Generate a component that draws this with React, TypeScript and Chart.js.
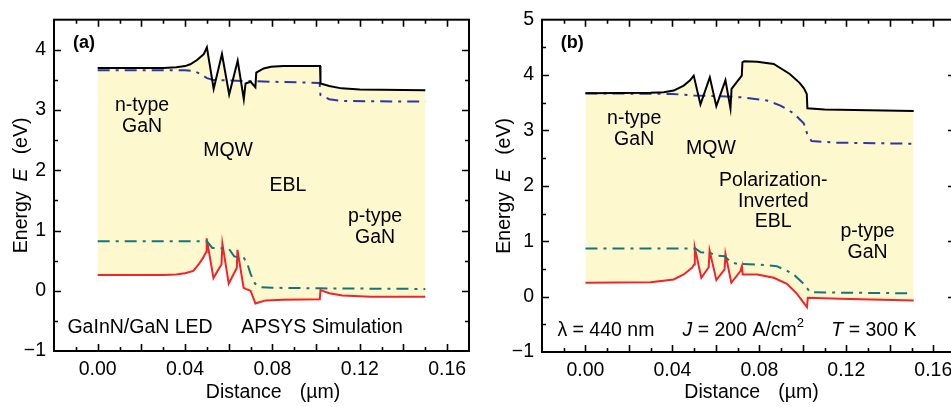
import React, { useEffect, useRef } from 'react';
import { Chart, registerables } from 'chart.js';

Chart.register(...registerables);

const FONT = '"Liberation Sans", Arial, Helvetica, sans-serif';

// ---------- Panel (a) data ----------
const condA_x = [0.0, 0.03, 0.036, 0.04, 0.0424, 0.0455, 0.0486, 0.0500, 0.0531, 0.0569, 0.0602, 0.0641, 0.0669, 0.0677, 0.0700, 0.0722, 0.0726, 0.0760, 0.0793, 0.0850, 0.1018, 0.1020, 0.1060, 0.1116, 0.1200, 0.1500];
const condA_y = [3.70, 3.70, 3.71, 3.73, 3.76, 3.83, 3.93, 4.04, 3.35, 3.93, 3.26, 3.82, 3.18, 3.44, 3.47, 3.38, 3.62, 3.69, 3.72, 3.73, 3.73, 3.44, 3.40, 3.36, 3.34, 3.33];
const fnA_x = [0.0, 0.040, 0.044, 0.047, 0.050, 0.053, 0.060, 0.080, 0.1016, 0.1020, 0.106, 0.112, 0.150];
const fnA_y = [3.66, 3.66, 3.65, 3.60, 3.53, 3.50, 3.49, 3.47, 3.45, 3.25, 3.18, 3.15, 3.14];
const valA_x = [0.0, 0.030, 0.036, 0.040, 0.0438, 0.0465, 0.0483, 0.0496, 0.0499, 0.0530, 0.0567, 0.0571, 0.0600, 0.0637, 0.0640, 0.0668, 0.0678, 0.0700, 0.0722, 0.0740, 0.0770, 0.0850, 0.1017, 0.1020, 0.1060, 0.1120, 0.1250, 0.1500];
const valA_y = [0.26, 0.26, 0.27, 0.29, 0.33, 0.45, 0.55, 0.64, 0.87, 0.21, 0.44, 0.78, 0.12, 0.38, 0.68, 0.05, 0.03, 0.00, -0.21, -0.19, -0.16, -0.15, -0.14, 0.01, -0.04, -0.08, -0.10, -0.10];
const fpA_x = [0.0, 0.0500, 0.0525, 0.0600, 0.0625, 0.0670, 0.0685, 0.0700, 0.0720, 0.0745, 0.0800, 0.1020, 0.1500];
const fpA_y = [0.82, 0.82, 0.71, 0.70, 0.57, 0.54, 0.45, 0.28, 0.12, 0.06, 0.05, 0.04, 0.03];

// ---------- Panel (b) data ----------
const condB_x = [0.0, 0.030, 0.036, 0.0406, 0.0452, 0.0480, 0.0498, 0.0529, 0.0572, 0.0602, 0.0644, 0.0667, 0.0672, 0.0719, 0.0722, 0.0730, 0.0790, 0.0866, 0.0940, 0.0985, 0.1005, 0.1018, 0.1021, 0.1100, 0.1510];
const condB_y = [3.67, 3.68, 3.69, 3.72, 3.81, 3.90, 3.99, 3.47, 3.96, 3.44, 3.91, 3.40, 3.75, 3.99, 4.23, 4.25, 4.24, 4.20, 4.02, 3.86, 3.76, 3.66, 3.40, 3.38, 3.35];
const fnB_x = [0.0, 0.040, 0.050, 0.060, 0.0713, 0.0780, 0.0835, 0.0897, 0.0958, 0.1004, 0.1020, 0.1040, 0.1150, 0.1510];
const fnB_y = [3.67, 3.66, 3.63, 3.62, 3.60, 3.57, 3.54, 3.45, 3.31, 3.13, 2.94, 2.81, 2.78, 2.76];
const valB_x = [0.0, 0.030, 0.0406, 0.0452, 0.0490, 0.0500, 0.0503, 0.0533, 0.0567, 0.0571, 0.0602, 0.0640, 0.0644, 0.0671, 0.0713, 0.0720, 0.0723, 0.0790, 0.0866, 0.0927, 0.0973, 0.1019, 0.1023, 0.1170, 0.1510];
const valB_y = [0.25, 0.26, 0.31, 0.40, 0.52, 0.58, 0.88, 0.34, 0.53, 0.83, 0.30, 0.49, 0.77, 0.25, 0.46, 0.55, 0.40, 0.40, 0.34, 0.23, 0.05, -0.19, -0.02, -0.04, -0.07];
const fpB_x = [0.0, 0.0506, 0.0530, 0.0575, 0.0600, 0.0640, 0.0670, 0.0700, 0.0800, 0.0880, 0.0930, 0.0960, 0.1004, 0.1034, 0.1200, 0.1500];
const fpB_y = [0.87, 0.87, 0.80, 0.79, 0.74, 0.73, 0.62, 0.59, 0.58, 0.55, 0.46, 0.39, 0.23, 0.08, 0.07, 0.06];

// ---------- axis ticks ----------
const xTickLabels = [0.0, 0.04, 0.08, 0.12, 0.16];
const yTicksA = [-1, 0, 1, 2, 3, 4];
const yTicksB = [-1, 0, 1, 2, 3, 4, 5];

type Part = { t: string; i?: boolean; b?: boolean; sup?: boolean; gap?: number };
type Note = { x: number; y: number; parts: Part[]; align?: 'center' | 'left'; size?: number };

const notesA: Note[] = [
  { x: -0.0113, y: 4.12, parts: [{ t: '(a)', b: true }], align: 'left', size: 18 },
  { x: 0.0203, y: 3.07, parts: [{ t: 'n-type' }] },
  { x: 0.0203, y: 2.73, parts: [{ t: 'GaN' }] },
  { x: 0.0597, y: 2.32, parts: [{ t: 'MQW' }] },
  { x: 0.0871, y: 1.75, parts: [{ t: 'EBL' }] },
  { x: 0.127, y: 1.23, parts: [{ t: 'p-type' }] },
  { x: 0.127, y: 0.89, parts: [{ t: 'GaN' }] },
  { x: 0.0194, y: -0.61, parts: [{ t: 'GaInN/GaN LED' }] },
  { x: 0.1027, y: -0.61, parts: [{ t: 'APSYS Simulation' }] },
];
const notesB: Note[] = [
  { x: -0.0114, y: 4.58, parts: [{ t: '(b)', b: true }], align: 'left', size: 18 },
  { x: 0.0224, y: 3.22, parts: [{ t: 'n-type' }] },
  { x: 0.0224, y: 2.84, parts: [{ t: 'GaN' }] },
  { x: 0.0577, y: 2.67, parts: [{ t: 'MQW' }] },
  { x: 0.0864, y: 2.10, parts: [{ t: 'Polarization-' }] },
  { x: 0.0864, y: 1.72, parts: [{ t: 'Inverted' }] },
  { x: 0.0864, y: 1.35, parts: [{ t: 'EBL' }] },
  { x: 0.1298, y: 1.17, parts: [{ t: 'p-type' }] },
  { x: 0.1298, y: 0.80, parts: [{ t: 'GaN' }] },
  { x: 0.0094, y: -0.62, parts: [{ t: 'λ = 440 nm' }] },
  { x: 0.0726, y: -0.62, parts: [{ t: 'J', i: true }, { t: ' = 200 A/cm' }, { t: '2', sup: true }] },
  { x: 0.1327, y: -0.62, parts: [{ t: 'T', i: true }, { t: ' = 300 K' }] },
];

const C_COND = '#000000';
const C_FN = '#2b38a3';
const C_FP = '#13767e';
const C_VAL = '#f2242a';
const C_FILL = '#fdf8cd';
const TXT = 19.5;

function zip(xs: number[], ys: number[]) {
  return xs.map((x, i) => ({ x, y: ys[i] }));
}

function fontOf(p: Part, size: number) {
  const s = p.sup ? Math.round(size * 0.68) : size;
  return `${p.i ? 'italic ' : ''}${p.b ? 'bold ' : ''}${s}px ${FONT}`;
}

function drawRich(ctx: CanvasRenderingContext2D, parts: Part[], x: number, y: number, size: number, align: 'center' | 'left', baseline: CanvasTextBaseline) {
  let total = 0;
  for (const p of parts) {
    if (p.gap) { total += p.gap; continue; }
    ctx.font = fontOf(p, size);
    total += ctx.measureText(p.t).width;
  }
  let cx = align === 'center' ? x - total / 2 : x;
  ctx.textAlign = 'left';
  ctx.textBaseline = baseline;
  for (const p of parts) {
    if (p.gap) { cx += p.gap; continue; }
    ctx.font = fontOf(p, size);
    ctx.fillText(p.t, cx, p.sup ? y - size * 0.38 : y);
    cx += ctx.measureText(p.t).width;
  }
}

type PanelCfg = {
  cond: { x: number; y: number }[];
  fn: { x: number; y: number }[];
  fp: { x: number; y: number }[];
  val: { x: number; y: number }[];
  yMin: number;
  yMax: number;
  yTicks: number[];
  pad: { top: number; right: number };
  yAxisWidth: number;
  xAxisHeight: number;
  notes: Note[];
  yTitleBaseX: number;
  xTitleCX: number;
};

function buildConfig(p: PanelCfg): any {
  const dash = [12, 6, 3, 6];
  const framePlugin = {
    id: 'frame',
    afterDraw(chart: any) {
      const ctx: CanvasRenderingContext2D = chart.ctx;
      const a = chart.chartArea;
      const xs = chart.scales.x;
      const ys = chart.scales.y;
      ctx.save();
      ctx.strokeStyle = '#000';
      ctx.lineWidth = 1.6;
      // x ticks (0.01 minor, 0.02 major)
      for (let i = -1; i <= 16; i++) {
        const v = i / 100;
        const px = Math.round(xs.getPixelForValue(v)) + 0.5;
        const len = i % 2 === 0 ? 7 : 4;
        ctx.beginPath();
        ctx.moveTo(px, a.bottom);
        ctx.lineTo(px, a.bottom - len);
        ctx.moveTo(px, a.top);
        ctx.lineTo(px, a.top + len);
        ctx.stroke();
      }
      // y ticks (0.5 minor, 1 major)
      for (let v = p.yMin + 0.5; v < p.yMax; v += 0.5) {
        const py = Math.round(ys.getPixelForValue(v)) + 0.5;
        const len = Math.abs(v - Math.round(v)) < 1e-6 ? 7 : 4;
        ctx.beginPath();
        ctx.moveTo(a.left, py);
        ctx.lineTo(a.left + len, py);
        ctx.moveTo(a.right, py);
        ctx.lineTo(a.right - len, py);
        ctx.stroke();
      }
      ctx.lineWidth = 2;
      ctx.strokeRect(a.left, a.top, a.right - a.left, a.bottom - a.top);

      ctx.fillStyle = '#000';
      for (const n of p.notes) {
        drawRich(ctx, n.parts, xs.getPixelForValue(n.x), ys.getPixelForValue(n.y), n.size ?? TXT, n.align ?? 'center', 'middle');
      }
      // y title
      ctx.save();
      ctx.translate(p.yTitleBaseX, (a.top + a.bottom) / 2);
      ctx.rotate(-Math.PI / 2);
      drawRich(ctx, [{ t: 'Energy' }, { t: '', gap: 10 }, { t: 'E', i: true }, { t: '', gap: 14 }, { t: '(eV)' }], 0, 0, TXT, 'center', 'alphabetic');
      ctx.restore();
      // x title
      drawRich(ctx, [{ t: 'Distance' }, { t: '', gap: 18 }, { t: '(µm)' }], p.xTitleCX, 398, TXT, 'center', 'alphabetic');
      ctx.restore();
    },
  };

  const line = (data: any, color: string, dashed: boolean, extra: any = {}) => ({
    data,
    borderColor: color,
    borderWidth: 2,
    borderDash: dashed ? dash : [],
    pointRadius: 0,
    showLine: true,
    fill: false,
    tension: 0,
    ...extra,
  });

  return {
    type: 'scatter',
    data: {
      datasets: [
        line(p.cond, C_COND, false, { fill: { target: 3 }, backgroundColor: C_FILL }),
        line(p.fn, C_FN, true),
        line(p.fp, C_FP, true),
        line(p.val, C_VAL, false),
      ],
    },
    options: {
      animation: false,
      responsive: false,
      devicePixelRatio: 1,
      layout: { padding: { top: p.pad.top, right: p.pad.right, left: 0, bottom: 0 } },
      plugins: {
        legend: { display: false },
        tooltip: { enabled: false },
        filler: { drawTime: 'beforeDatasetsDraw' },
      },
      scales: {
        x: {
          type: 'linear',
          min: -0.02,
          max: 0.17,
          grid: { display: false, drawTicks: false },
          border: { display: false },
          afterBuildTicks: (s: any) => { s.ticks = xTickLabels.map((v) => ({ value: v })); },
          afterFit: (s: any) => { s.height = p.xAxisHeight; },
          ticks: {
            autoSkip: false,
            maxRotation: 0,
            padding: 7,
            color: '#000',
            font: { family: FONT, size: TXT },
            callback: (v: any) => Number(v).toFixed(2),
          },
        },
        y: {
          type: 'linear',
          min: p.yMin,
          max: p.yMax,
          grid: { display: false, drawTicks: false },
          border: { display: false },
          afterBuildTicks: (s: any) => { s.ticks = p.yTicks.map((v) => ({ value: v })); },
          afterFit: (s: any) => { s.width = p.yAxisWidth; },
          ticks: {
            padding: 8,
            color: '#000',
            font: { family: FONT, size: TXT },
            callback: (v: any) => (Number(v) < 0 ? '\u2212' + Math.abs(Number(v)) : String(v)),
          },
        },
      },
    },
    plugins: [framePlugin],
  };
}

function Panel({ cfg, left, width }: { cfg: PanelCfg; left: number; width: number }) {
  const ref = useRef<HTMLCanvasElement>(null);
  useEffect(() => {
    const chart = new Chart(ref.current as HTMLCanvasElement, buildConfig(cfg));
    return () => chart.destroy();
  }, []);
  return (
    <canvas
      ref={ref}
      width={width}
      height={407}
      style={{ position: 'absolute', left, top: 0, width, height: 407, display: 'block' }}
    />
  );
}

const panelA: PanelCfg = {
  cond: zip(condA_x, condA_y),
  fn: zip(fnA_x, fnA_y),
  fp: zip(fpA_x, fpA_y),
  val: zip(valA_x, valA_y),
  yMin: -1,
  yMax: 4.5,
  yTicks: yTicksA,
  pad: { top: 14, right: 11 },
  yAxisWidth: 54,
  xAxisHeight: 56,
  notes: notesA,
  yTitleBaseX: 27,
  xTitleCX: 273,
};

const panelB: PanelCfg = {
  cond: zip(condB_x, condB_y),
  fn: zip(fnB_x, fnB_y),
  fp: zip(fpB_x, fpB_y),
  val: zip(valB_x, valB_y),
  yMin: -1,
  yMax: 5,
  yTicks: yTicksB,
  pad: { top: 15, right: 5 },
  yAxisWidth: 62,
  xAxisHeight: 55,
  notes: notesB,
  yTitleBaseX: 30,
  xTitleCX: 271.5,
};

export default function App() {
  return (
    <div style={{ position: 'fixed', left: 0, top: 0, width: 951, height: 407, overflow: 'hidden', background: '#fff' }}>
      <Panel cfg={panelA} left={0} width={480} />
      <Panel cfg={panelB} left={480} width={480} />
    </div>
  );
}
